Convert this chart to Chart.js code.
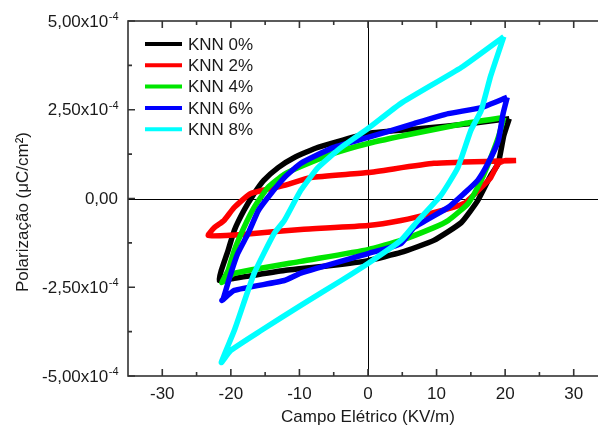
<!DOCTYPE html>
<html>
<head>
<meta charset="utf-8">
<title>Polarização x Campo Elétrico</title>
<script src="https://cdn.jsdelivr.net/npm/chart.js@4.4.1/dist/chart.umd.min.js"></script>
<style>
    html, body { margin: 0; padding: 0; background: #fff; overflow: hidden; }
    #wrap { width: 620px; height: 430px; }
</style>
</head>
<body>
<div id="wrap"><canvas id="grafico" width="620" height="430"></canvas></div>
<script>
// campo elétrico (KV/m) e polarização (x10^-4 µC/cm²)
const knn0E = [20.6, 15.0, 7.7, 0, -7.3, -10.8, -13.1, -15.2, -16.6, -18.1, -19.5, -20.4, -21.4, -21.7, -19.5, -12.2, -5.4, 0, 4.8, 9.6, 13.6, 16.0, 17.9, 19.0, 19.8, 20.6];
const knn0P = [2.25, 2.11, 1.97, 1.83, 1.44, 1.15, 0.87, 0.51, 0.14, -0.34, -0.90, -1.46, -2.03, -2.31, -2.25, -2.03, -1.89, -1.75, -1.52, -1.18, -0.68, -0.06, 0.65, 0.99, 1.77, 2.25];

const knn2E = [21.6, 9.6, 0, -8.3, -12.2, -17.1, -19.5, -21.0, -22.4, -23.3, -20.7, -17.1, -9.8, 0, 4.8, 9.2, 14.0, 16.5, 17.9, 19.0, 20.1, 21.6];
const knn2P = [1.07, 0.99, 0.73, 0.59, 0.37, 0.14, -0.25, -0.62, -0.82, -1.04, -1.04, -0.99, -0.87, -0.76, -0.62, -0.42, -0.14, 0.31, 0.59, 0.99, 1.07, 1.07];

const knn4E = [19.8, 14.0, 6.7, 0, -5.0, -9.8, -12.2, -14.6, -16.6, -18.1, -19.5, -20.4, -21.3, -19.5, -9.8, 0, 4.8, 9.6, 11.7, 14.6, 16.5, 17.9, 19.0, 19.8];
const knn4P = [2.28, 2.11, 1.83, 1.55, 1.27, 0.90, 0.68, 0.31, -0.25, -0.82, -1.46, -2.03, -2.37, -2.11, -1.77, -1.44, -1.18, -0.82, -0.62, -0.14, 0.51, 1.15, 1.72, 2.28];

const knn6E = [20.3, 16.5, 11.7, 6.7, 0, -5.0, -9.8, -12.2, -14.6, -16.0, -17.5, -19.0, -20.0, -21.1, -21.3, -19.5, -12.2, -9.8, 0, 4.8, 6.7, 11.7, 14.0, 16.0, 17.5, 19.0, 19.7, 20.3];
const knn6P = [2.85, 2.56, 2.39, 2.11, 1.72, 1.44, 0.99, 0.59, 0.03, -0.34, -0.99, -1.55, -2.11, -2.82, -2.87, -2.59, -2.31, -2.10, -1.55, -1.27, -0.82, -0.25, 0.14, 0.51, 0.99, 1.63, 2.39, 2.85];

const knn8E = [19.8, 13.6, 4.8, 0, -3.9, -7.3, -9.8, -12.2, -13.7, -16.6, -19.5, -21.4, -20.0, -15.6, -9.8, -3.9, 0, 4.8, 7.3, 10.6, 13.1, 15.0, 16.5, 17.9, 19.8];
const knn8P = [4.56, 3.69, 2.68, 1.97, 1.44, 0.87, 0.23, -0.62, -0.99, -2.11, -3.72, -4.62, -4.28, -3.72, -3.01, -2.31, -1.83, -1.18, -0.62, 0.08, 0.87, 1.92, 2.48, 3.46, 4.56];

const series = ["KNN 0%", "KNN 2%", "KNN 4%", "KNN 6%", "KNN 8%"];
const cores = ["#000000", "#ff0000", "#00e600", "#0000ff", "#00ffff"];

const xTicks = [-30, -20, -10, 0, 10, 20, 30];
const xMinor = [-25, -15, -5, 5, 15, 25];
const yTicks = [-5e-4, -2.5e-4, 0, 2.5e-4, 5e-4];
const yMinor = [-3.75e-4, -1.25e-4, 1.25e-4, 3.75e-4];
const yTickLabels = ["-5,00x10", "-2,50x10", "0,00", "2,50x10", "5,00x10"];
const yTickExp = ["-4", "-4", "", "-4", "-4"];

const FONTE = '"Liberation Sans", Arial, sans-serif';
const TEXTO = "#1a1a1a";
const EIXO = "#333333";

function pontos(es, ps) {
    return es.map((e, i) => ({ x: e, y: ps[i] * 1e-4 }));
}

const loops = [
    pontos(knn0E, knn0P),
    pontos(knn2E, knn2P),
    pontos(knn4E, knn4P),
    pontos(knn6E, knn6P),
    pontos(knn8E, knn8P)
];

// black por baixo, cyan por cima
const datasets = loops.map((dados, i) => ({
    label: series[i],
    data: dados,
    borderColor: cores[i],
    backgroundColor: cores[i],
    borderWidth: 5.5,
    pointRadius: 0,
    showLine: true,
    tension: 0.15,
    order: series.length - i
}));

const moldura = {
    id: "moldura",
    beforeDatasetsDraw(chart) {
        const { ctx, chartArea: a, scales: { x, y } } = chart;
        ctx.save();
        ctx.strokeStyle = "#000";
        ctx.lineWidth = 1;
        const x0 = Math.round(x.getPixelForValue(0)) + 0.5;
        const y0 = Math.round(y.getPixelForValue(0)) + 0.5;
        ctx.beginPath();
        ctx.moveTo(x0, a.top);
        ctx.lineTo(x0, a.bottom);
        ctx.moveTo(a.left, y0);
        ctx.lineTo(a.right, y0);
        ctx.stroke();
        ctx.restore();
    },
    afterDraw(chart) {
        const { ctx, chartArea: a, scales: { x, y } } = chart;
        ctx.save();

        // moldura e marcas para dentro
        ctx.strokeStyle = EIXO;
        ctx.lineWidth = 1.6;
        ctx.strokeRect(a.left, a.top, a.right - a.left, a.bottom - a.top);

        ctx.beginPath();
        xTicks.forEach(v => {
            const px = x.getPixelForValue(v);
            ctx.moveTo(px, a.bottom); ctx.lineTo(px, a.bottom - 7);
            ctx.moveTo(px, a.top); ctx.lineTo(px, a.top + 7);
        });
        xMinor.forEach(v => {
            const px = x.getPixelForValue(v);
            ctx.moveTo(px, a.bottom); ctx.lineTo(px, a.bottom - 4);
            ctx.moveTo(px, a.top); ctx.lineTo(px, a.top + 4);
        });
        yTicks.forEach(v => {
            const py = y.getPixelForValue(v);
            ctx.moveTo(a.left, py); ctx.lineTo(a.left + 7, py);
            ctx.moveTo(a.right, py); ctx.lineTo(a.right - 7, py);
        });
        yMinor.forEach(v => {
            const py = y.getPixelForValue(v);
            ctx.moveTo(a.left, py); ctx.lineTo(a.left + 4, py);
            ctx.moveTo(a.right, py); ctx.lineTo(a.right - 4, py);
        });
        ctx.stroke();

        // rótulos do eixo y com expoente
        ctx.fillStyle = TEXTO;
        ctx.textBaseline = "middle";
        yTicks.forEach((v, i) => {
            const py = y.getPixelForValue(v) + 1;
            const direita = a.left - 10;
            ctx.font = "11px " + FONTE;
            const wExp = yTickExp[i] ? ctx.measureText(yTickExp[i]).width : 0;
            ctx.font = "17px " + FONTE;
            ctx.textAlign = "right";
            ctx.fillText(yTickLabels[i], direita - wExp, py);
            if (yTickExp[i]) {
                ctx.font = "11px " + FONTE;
                ctx.textAlign = "left";
                ctx.fillText(yTickExp[i], direita - wExp + 0.5, py - 5);
            }
        });

        // título do eixo y
        ctx.save();
        ctx.translate(23, 212);
        ctx.rotate(-Math.PI / 2);
        ctx.font = "17px " + FONTE;
        ctx.textAlign = "center";
        ctx.fillText("Polarização (μC/cm²)", 0, 0);
        ctx.restore();

        // legenda
        ctx.font = "17px " + FONTE;
        ctx.textAlign = "left";
        series.forEach((nome, i) => {
            const py = 44 + i * 21.3;
            ctx.strokeStyle = cores[i];
            ctx.lineWidth = 4;
            ctx.beginPath();
            ctx.moveTo(145, py);
            ctx.lineTo(182, py);
            ctx.stroke();
            ctx.fillStyle = TEXTO;
            ctx.fillText(nome, 188, py + 1);
        });

        ctx.restore();
    }
};

new Chart(document.getElementById("grafico"), {
    type: "scatter",
    data: { datasets },
    plugins: [moldura],
    options: {
        responsive: false,
        animation: false,
        layout: { padding: { left: 0, top: 21, right: 12, bottom: 0 } },
        plugins: {
            legend: { display: false },
            tooltip: { enabled: false }
        },
        scales: {
            x: {
                type: "linear",
                min: -35,
                max: 35,
                afterBuildTicks: scale => { scale.ticks = xTicks.map(v => ({ value: v })); },
                afterFit: scale => { scale.height = 54; },
                grid: { display: false, drawTicks: false },
                border: { display: false },
                ticks: {
                    padding: 8,
                    color: TEXTO,
                    font: { family: FONTE, size: 17 },
                    callback: v => String(v)
                },
                title: {
                    display: true,
                    text: "Campo Elétrico (KV/m)",
                    color: TEXTO,
                    font: { family: FONTE, size: 17 },
                    padding: { top: 0, bottom: 2 }
                }
            },
            y: {
                type: "linear",
                min: -5e-4,
                max: 5e-4,
                afterFit: scale => { scale.width = 128; },
                grid: { display: false, drawTicks: false },
                border: { display: false },
                ticks: { display: false }
            }
        }
    }
});
</script>
</body>
</html>
